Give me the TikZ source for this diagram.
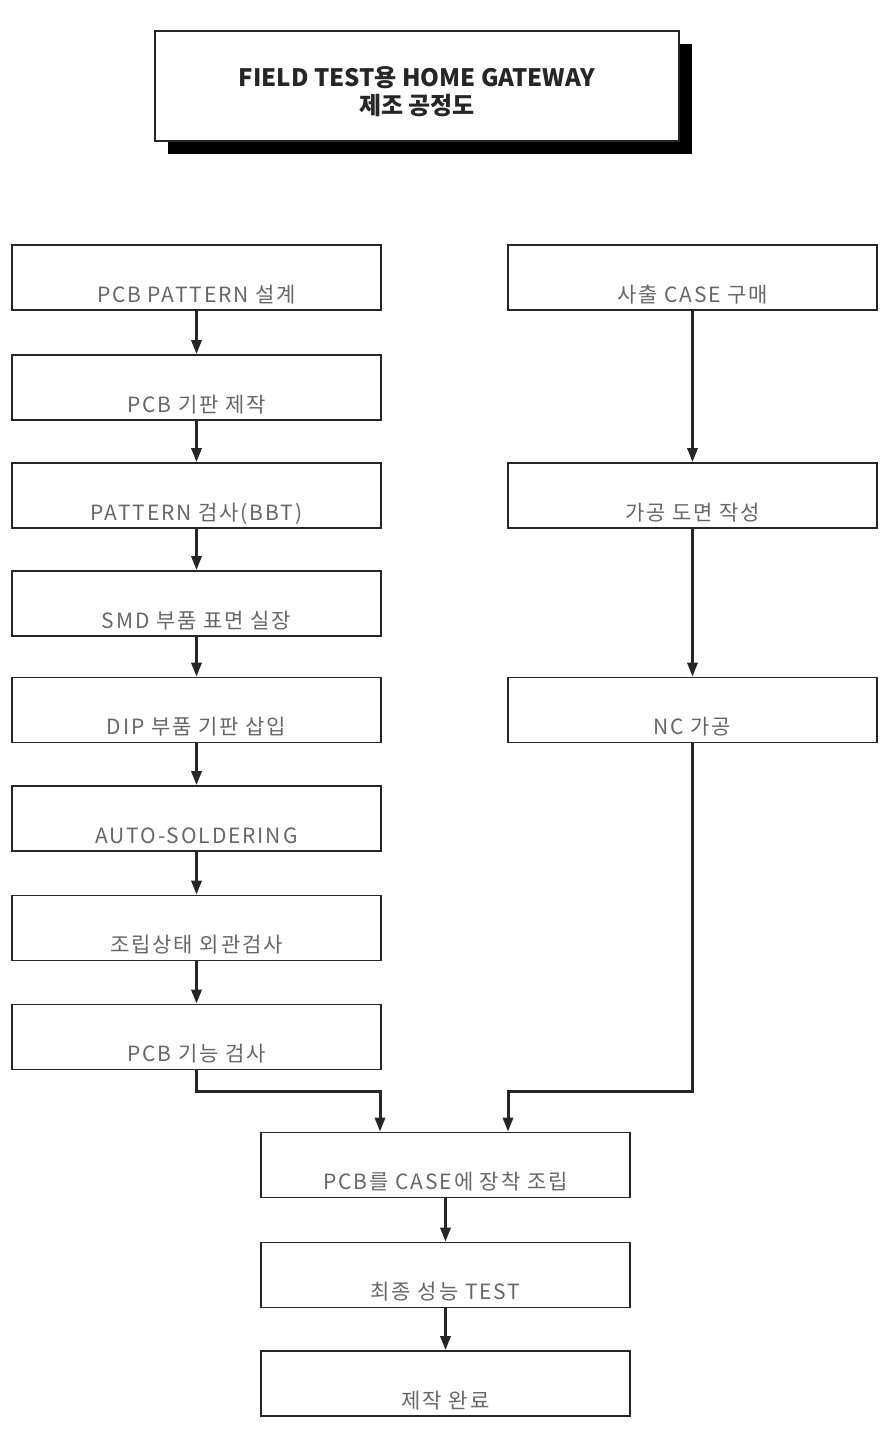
\documentclass[tikz,border=0pt]{standalone}
\usepackage{fontspec}
\usetikzlibrary{arrows.meta,shadows}
\setmainfont{Noto Sans CJK KR}
\newfontfamily\krwide[LetterSpace=9]{Noto Sans CJK KR}
\definecolor{boxline}{gray}{0.15}
\definecolor{boxtext}{gray}{0.40}

\tikzset{
  stepbox/.style={draw=boxline, line width=1.6pt, rectangle, inner sep=0pt,
    minimum width=369pt, text height=57pt, text depth=8pt,
    font=\krwide\fontsize{21}{24}\selectfont, text=boxtext},
  flow/.style={line width=3pt, draw=black!85,
    -{Triangle[length=14pt,width=10pt]}},
  titlebox/.style={draw=boxline, line width=1.4pt, fill=white,
    minimum width=524pt, minimum height=110pt, align=center,
    inner ysep=0pt, text height=83pt, text depth=27pt,
    font=\bfseries\fontsize{24}{28}\selectfont, text=black!85,
    drop shadow={shadow xshift=13pt, shadow yshift=-13pt,
      fill=black, opacity=1}}
}

\begin{document}
\begin{tikzpicture}[x=1pt,y=-1pt]
  \useasboundingbox (0,0) rectangle (896,1443);

  % title
  \node[titlebox] (title) at (417,86) {FIELD TEST용 HOME GATEWAY\\제조 공정도};

  % PCB side
  \node[stepbox] (pattern)  at (196.5, 277.5) {PCB PATTERN 설계};
  \node[stepbox] (board)    at (196.5, 387.5) {PCB 기판 제작};
  \node[stepbox] (bbt)      at (196.5, 495.5) {PATTERN 검사(BBT)};
  \node[stepbox] (smd)      at (196.5, 603.5) {SMD 부품 표면 실장};
  \node[stepbox] (dip)      at (196.5, 710)   {DIP 부품 기판 삽입};
  \node[stepbox] (solder)   at (196.5, 818.5) {AUTO-SOLDERING};
  \node[stepbox] (visual)   at (196.5, 928)   {조립상태 외관검사};
  \node[stepbox] (pcbtest)  at (196.5, 1037)  {PCB 기능 검사};

  % CASE side
  \node[stepbox] (buycase)  at (692.5, 277.5) {사출 CASE 구매};
  \node[stepbox] (drawing)  at (692.5, 495.5) {가공 도면 작성};
  \node[stepbox] (nc)       at (692.5, 710)   {NC 가공};

  % final steps
  \node[stepbox] (assemble) at (445.5, 1165)  {PCB를 CASE에 장착 조립};
  \node[stepbox] (final)    at (445.5, 1275)  {최종 성능 TEST};
  \node[stepbox] (done)     at (445.5, 1383.5){제작 완료};

  \coordinate (jl) at (380,1091);
  \coordinate (jr) at (508,1091);

  \draw[flow] (pattern) -- (board);
  \draw[flow] (board) -- (bbt);
  \draw[flow] (bbt) -- (smd);
  \draw[flow] (smd) -- (dip);
  \draw[flow] (dip) -- (solder);
  \draw[flow] (solder) -- (visual);
  \draw[flow] (visual) -- (pcbtest);

  \draw[flow] (buycase) -- (drawing);
  \draw[flow] (drawing) -- (nc);

  \draw[flow] (pcbtest.south) |- (jl) -- (jl |- assemble.north);
  \draw[flow] (nc.south) |- (jr) -- (jr |- assemble.north);

  \draw[flow] (assemble) -- (final);
  \draw[flow] (final) -- (done);
\end{tikzpicture}
\end{document}
